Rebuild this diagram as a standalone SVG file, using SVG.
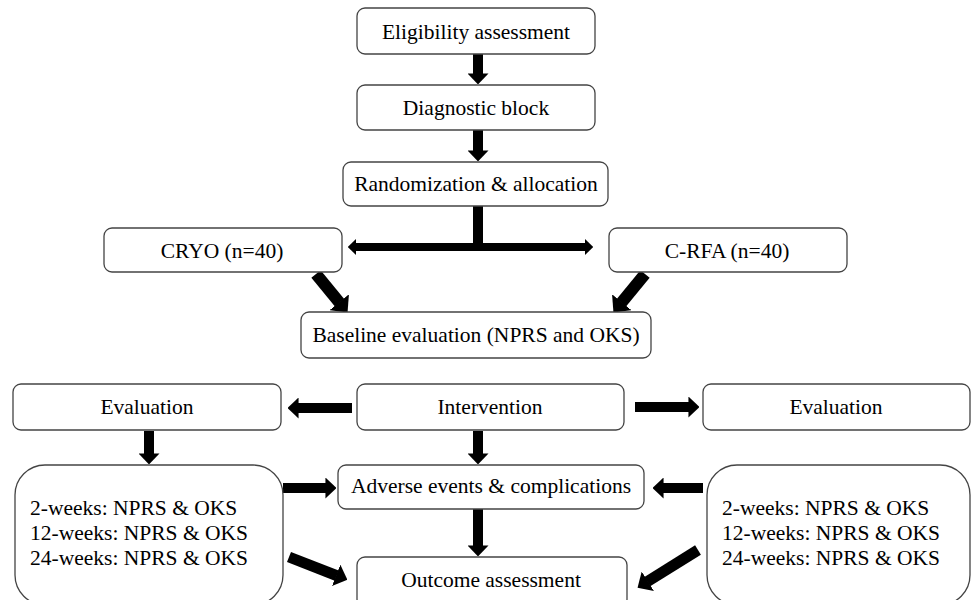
<svg xmlns="http://www.w3.org/2000/svg" width="973" height="600" viewBox="0 0 973 600">
<style>
.box{fill:#fff;stroke:#444;stroke-width:1.3}
text{font-family:'Liberation Serif','Times New Roman','DejaVu Serif',serif;font-size:21.5px;fill:#000}
.c{text-anchor:middle}
.a{stroke:#000;fill:none}
</style>
<defs>
<marker id="ah" viewBox="0 0 10 10" refX="0.5" refY="5" markerWidth="1.1" markerHeight="2.1" preserveAspectRatio="none" orient="auto-start-reverse" markerUnits="strokeWidth">
<path d="M0,0 L10,5 L0,10 z" fill="#000"/>
</marker>
</defs>
<rect width="973" height="600" fill="#fff"/>
<g id="connectors">
<line class="a" x1="478" y1="54" x2="478" y2="74" stroke-width="10" marker-end="url(#ah)"/>
<line class="a" x1="478" y1="130" x2="478" y2="151" stroke-width="10" marker-end="url(#ah)"/>
<line class="a" x1="478" y1="206" x2="478" y2="251" stroke-width="10"/>
<line class="a" x1="356" y1="247" x2="585" y2="247" stroke-width="8" marker-start="url(#ah)" marker-end="url(#ah)"/>
<line class="a" x1="316" y1="274" x2="339.6" y2="302.8" stroke-width="12" marker-end="url(#ah)"/>
<line class="a" x1="645" y1="274" x2="621.4" y2="302.8" stroke-width="12" marker-end="url(#ah)"/>
<line class="a" x1="352" y1="408" x2="298" y2="408" stroke-width="10" marker-end="url(#ah)"/>
<line class="a" x1="635" y1="407" x2="689" y2="407" stroke-width="10" marker-end="url(#ah)"/>
<line class="a" x1="149" y1="431" x2="149" y2="454" stroke-width="10" marker-end="url(#ah)"/>
<line class="a" x1="478" y1="431" x2="478" y2="454" stroke-width="10" marker-end="url(#ah)"/>
<line class="a" x1="283" y1="488" x2="326" y2="488" stroke-width="10" marker-end="url(#ah)"/>
<line class="a" x1="703" y1="488" x2="663" y2="488" stroke-width="10" marker-end="url(#ah)"/>
<line class="a" x1="478" y1="509" x2="478" y2="546" stroke-width="10" marker-end="url(#ah)"/>
<line class="a" x1="289" y1="557" x2="336.7" y2="575.6" stroke-width="11" marker-end="url(#ah)"/>
<line class="a" x1="698" y1="550" x2="647.3" y2="581.6" stroke-width="11" marker-end="url(#ah)"/>
</g>
<g id="eligibility"><rect class="box" x="357" y="8" width="238" height="46" rx="8"/><text class="c" x="476" y="39">Eligibility assessment</text></g>
<g id="diagnostic"><rect class="box" x="357" y="85" width="238" height="45" rx="8"/><text class="c" x="476" y="115">Diagnostic block</text></g>
<g id="randomization"><rect class="box" x="343" y="162" width="265" height="44" rx="8"/><text class="c" x="476" y="191">Randomization &amp; allocation</text></g>
<g id="cryo"><rect class="box" x="104" y="228" width="238" height="44" rx="8"/><text class="c" x="222" y="258">CRYO (n=40)</text></g>
<g id="crfa"><rect class="box" x="609" y="228" width="238" height="44" rx="8"/><text class="c" x="727" y="258">C-RFA (n=40)</text></g>
<g id="baseline"><rect class="box" x="301" y="312" width="350" height="46" rx="8"/><text class="c" x="476" y="342">Baseline evaluation (NPRS and OKS)</text></g>
<g id="eval-left"><rect class="box" x="13" y="384" width="268" height="46" rx="8"/><text class="c" x="147" y="414">Evaluation</text></g>
<g id="intervention"><rect class="box" x="357" y="384" width="267" height="46" rx="8"/><text class="c" x="490" y="414">Intervention</text></g>
<g id="eval-right"><rect class="box" x="703" y="384" width="267" height="46" rx="8"/><text class="c" x="836" y="414">Evaluation</text></g>
<g id="data-left"><rect class="box" x="15" y="465" width="268" height="140" rx="30"/><text x="30" y="515">2-weeks: NPRS &amp; OKS</text><text x="30" y="540">12-weeks: NPRS &amp; OKS</text><text x="30" y="565">24-weeks: NPRS &amp; OKS</text></g>
<g id="adverse"><rect class="box" x="338" y="465" width="306" height="44" rx="8"/><text class="c" x="491" y="493">Adverse events &amp; complications</text></g>
<g id="data-right"><rect class="box" x="707" y="465" width="263" height="140" rx="30"/><text x="722" y="515">2-weeks: NPRS &amp; OKS</text><text x="722" y="540">12-weeks: NPRS &amp; OKS</text><text x="722" y="565">24-weeks: NPRS &amp; OKS</text></g>
<g id="outcome"><rect class="box" x="357" y="557" width="270" height="50" rx="8"/><text class="c" x="491" y="587">Outcome assessment</text></g>
</svg>
